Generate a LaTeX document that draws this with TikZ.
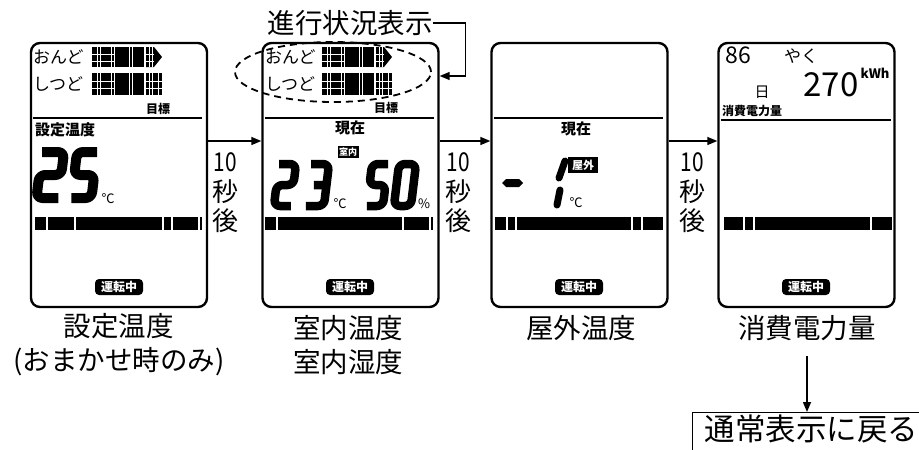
\documentclass[tikz,border=0pt]{standalone}
\usepackage{fontspec}
\setmainfont{Noto Sans CJK JP}
\usetikzlibrary{arrows.meta,shapes.geometric,calc}
\newcommand\fsz[1]{\fontsize{#1}{#1}\selectfont}
% seven-segment style digits, (x,y) = top-left of stroke path
\newcommand\digtwo[5][9pt]{\begin{scope}[shift={(#2,#3)},xslant=0.12]\draw[seg,line width=#1] (0,0) -- (#4,0) -- (#4,#5/2) -- (0,#5/2) -- (0,#5) -- (#4,#5);\end{scope}}
\newcommand\digfive[5][9pt]{\begin{scope}[shift={(#2,#3)},xslant=0.12]\draw[seg,line width=#1] (#4,0) -- (0,0) -- (0,#5/2) -- (#4,#5/2) -- (#4,#5) -- (0,#5);\end{scope}}
\newcommand\digthree[5][9pt]{\begin{scope}[shift={(#2,#3)},xslant=0.12]\draw[seg,line width=#1] (0,0) -- (#4,0) -- (#4,#5) -- (0,#5) (#4*0.3,#5/2) -- (#4,#5/2);\end{scope}}
\newcommand\digzero[5][9pt]{\begin{scope}[shift={(#2,#3)},xslant=0.12]\draw[seg,line width=#1] (0,0) rectangle (#4,#5);\end{scope}}
% dot-matrix progress blocks
\newcommand\lcdrowA[2]{%
  \fill (#1,#2) rectangle ++(52,20);
  \fill (#1+54,#2) -- ++(8,0) -- ++(8,10) -- ++(-8,10) -- ++(-8,0) -- cycle;
  \foreach \dx in {5,8,19,22,37,40,57,60} \draw[white,line width=0.8pt] (#1+\dx,#2) -- ++(0,20);
  \draw[white,line width=0.8pt] (#1,#2+7) -- ++(22,0) (#1,#2+14) -- ++(22,0) (#1+54,#2+7) -- ++(8,0) (#1+54,#2+14) -- ++(8,0);}
\newcommand\lcdrowB[2]{%
  \fill (#1,#2) rectangle ++(52,22);
  \fill (#1+54,#2) rectangle ++(16,22);
  \foreach \dx in {5,8,19,22,37,40,57,60,66} \draw[white,line width=0.8pt] (#1+\dx,#2) -- ++(0,22);
  \draw[white,line width=0.8pt] (#1,#2+8) -- ++(22,0) (#1,#2+15) -- ++(22,0) (#1+54,#2+8) -- ++(16,0) (#1+54,#2+15) -- ++(16,0);}
\begin{document}
\begin{tikzpicture}[x=1pt,y=-1pt,
  panel/.style={draw,line width=2.4pt,rounded corners=9pt,minimum width=176pt,minimum height=264pt,inner sep=0pt},
  conn/.style={line width=1.5pt,-{Triangle[length=10pt,width=8pt]}},
  lbl/.style={font=\fontsize{27.5}{34}\selectfont,inner sep=0pt,align=center},
  wait/.style={font=\fontsize{26}{29.5}\selectfont,inner sep=0pt,align=center},
  lcd/.style={inner sep=0pt},
  lcdb/.style={inner sep=0pt,font=\bfseries\fsz{#1}},
  badge/.style={fill=black,text=white,rounded corners=4pt,font=\bfseries\fsz{12},minimum width=48pt,minimum height=16pt,inner sep=1pt},
  tag/.style={fill=black,text=white,font=\bfseries\fsz{#1},inner sep=1.5pt},
  seg/.style={line width=9pt,rounded corners=6pt,line join=round},
  sepl/.style={line width=1.2pt},
  ]
\fill[white] (0,0) rectangle (919,450);
\useasboundingbox (0,0) rectangle (919,450);
\clip (0,0) rectangle (919,450);

% panels
\node[panel] (p1) at (119,175) {};
\node[panel] (p2) at (350.5,175) {};
\node[panel] (p3) at (579.5,175) {};
\node[panel] (p4) at (806.5,175) {};

% ---------- panel 1 ----------
\begin{scope}[shift={(30,42)}]
  \node[lcd,anchor=west,font=\fsz{17}] (a1on) at (3,15) {おんど};
  \node[lcd,anchor=west,font=\fsz{17}] (a1sh) at (3,42) {しつど};
  \lcdrowA{62}{5}
  \lcdrowB{62}{31}
  \node[lcdb=12] (a1tg) at (128,67) {目標};
  \draw[sepl] (3,76) -- (172,76);
  \node[lcdb=15,anchor=west] (a1st) at (5,88) {設定温度};
  \digtwo[10pt]{12}{110}{22}{46}
  \digfive[10pt]{47}{110}{20}{46}
  \node[lcd,font=\fsz{13}] (a1c) at (78,157) {℃};
  \fill (5,175) rectangle (172,188);
  \foreach \g in {17,45,133,142,169} \draw[white,line width=2pt] (\g,175) -- (\g,188);
  \node[badge] (a1b) at (89,245) {運転中};
\end{scope}

% ---------- panel 2 ----------
\begin{scope}[shift={(262,42)}]
  \node[lcd,anchor=west,font=\fsz{17}] (a2on) at (3,15) {おんど};
  \node[lcd,anchor=west,font=\fsz{17}] (a2sh) at (3,42) {しつど};
  \lcdrowA{60}{5}
  \lcdrowB{60}{31}
  \node[lcdb=12] (a2tg) at (124,66) {目標};
  \draw[sepl] (3,76) -- (172,76);
  \node[lcdb=15] (a2now) at (88,86) {現在};
  \node[tag=9] (a2in) at (86,110) {室内};
  \digtwo[8.5pt]{17}{122}{17}{42}
  \digthree[8.5pt]{49}{122}{18}{42}
  \node[lcd,font=\fsz{13}] (a2c) at (78,162) {℃};
  \digfive[8.5pt]{110}{122}{16}{42}
  \digzero[8.5pt]{137}{122}{17}{42}
  \node[lcd,font=\fsz{13}] (a2p) at (162,162) {\%};
  \fill (3,175) rectangle (171,188);
  \foreach \g in {15,141,168} \draw[white,line width=2pt] (\g,175) -- (\g,188);
  \node[badge] (a2b) at (88,245) {運転中};
\end{scope}

% ---------- panel 3 ----------
\begin{scope}[shift={(491,42)}]
  \draw[sepl] (3,76) -- (172,76);
  \node[lcdb=15] (a3now) at (85,87) {現在};
  \fill (11,141) -- (15,137) -- (28,137) -- (32,141) -- (28,145) -- (15,145) -- cycle;
  \draw[line width=7pt,line cap=round] (74,119) -- (68,136) (69,148) -- (66,163);
  \node[tag=11,minimum width=30pt,minimum height=16pt] (a3out) at (92,123) {屋外};
  \node[lcd,font=\fsz{13}] (a3c) at (85,161) {℃};
  \fill (4,175) rectangle (172,188);
  \foreach \g in {16,25,141,151} \draw[white,line width=2pt] (\g,175) -- (\g,188);
  \node[badge] (a3b) at (88,245) {運転中};
\end{scope}

% ---------- panel 4 ----------
\begin{scope}[shift={(718,42)}]
  \node[lcd,font=\fsz{23}] (a4d) at (20,13) {86};
  \node[lcd,font=\fsz{17}] (a4y) at (83,14) {やく};
  \node[lcd,font=\fsz{33}] (a4n) at (113,43) {270};
  \node[lcdb=13] (a4k) at (157,31) {kWh};
  \node[lcd,font=\fsz{15}] (a4h) at (44,50) {日};
  \node[lcdb=12,anchor=west] (a4s) at (4,69) {消費電力量};
  \draw[sepl] (3,78) -- (173,78);
  \fill (6,175) rectangle (174,188);
  \foreach \g in {26,36,153} \draw[white,line width=2pt] (\g,175) -- (\g,188);
  \node[badge] (a4b) at (88,245) {運転中};
\end{scope}

% progress indicator annotation
\node[ellipse,draw,dashed,dash pattern=on 7pt off 5pt,line width=1.8pt,minimum width=196pt,minimum height=60pt,inner sep=0pt] (el) at (333,72) {};
\node[lbl] (ttl) at (350,23) {進行状況表示};
\draw[conn] (ttl.east) -- ++(33,0) |- ($(el.east -| p2.east)+(0,4)$);

% transitions
\draw[conn] ([yshift=34pt]p1.east) -- ([yshift=34pt]p2.west);
\draw[conn] ([yshift=34pt]p2.east) -- ([yshift=34pt]p3.west);
\draw[conn] ([yshift=34pt]p3.east) -- ([yshift=34pt]p4.west);
\node[wait] (t1) at (225,193) {\scalebox{0.8}[1]{10}\\秒\\後};
\node[wait] (t2) at (458,193) {\scalebox{0.8}[1]{10}\\秒\\後};
\node[wait] (t3) at (692,193) {\scalebox{0.8}[1]{10}\\秒\\後};

% labels
\node[lbl] (l1) at (119,345) {設定温度\\(おまかせ時のみ)};
\node[lbl] (l2) at (348,345) {室内温度\\室内湿度};
\node[lbl] (l3) at (581,328) {屋外温度};
\node[lbl] (l4) at (807,328) {消費電力量};

\node[draw,line width=1.2pt,anchor=north west,font=\fsz{30.5},inner xsep=12pt,inner ysep=3pt,text height=25pt,text depth=40pt] (ret) at (692,412) {通常表示に戻る};
\draw[conn] ([yshift=-15pt]l4.south) -- (l4.south |- ret.north);
\end{tikzpicture}
\end{document}
